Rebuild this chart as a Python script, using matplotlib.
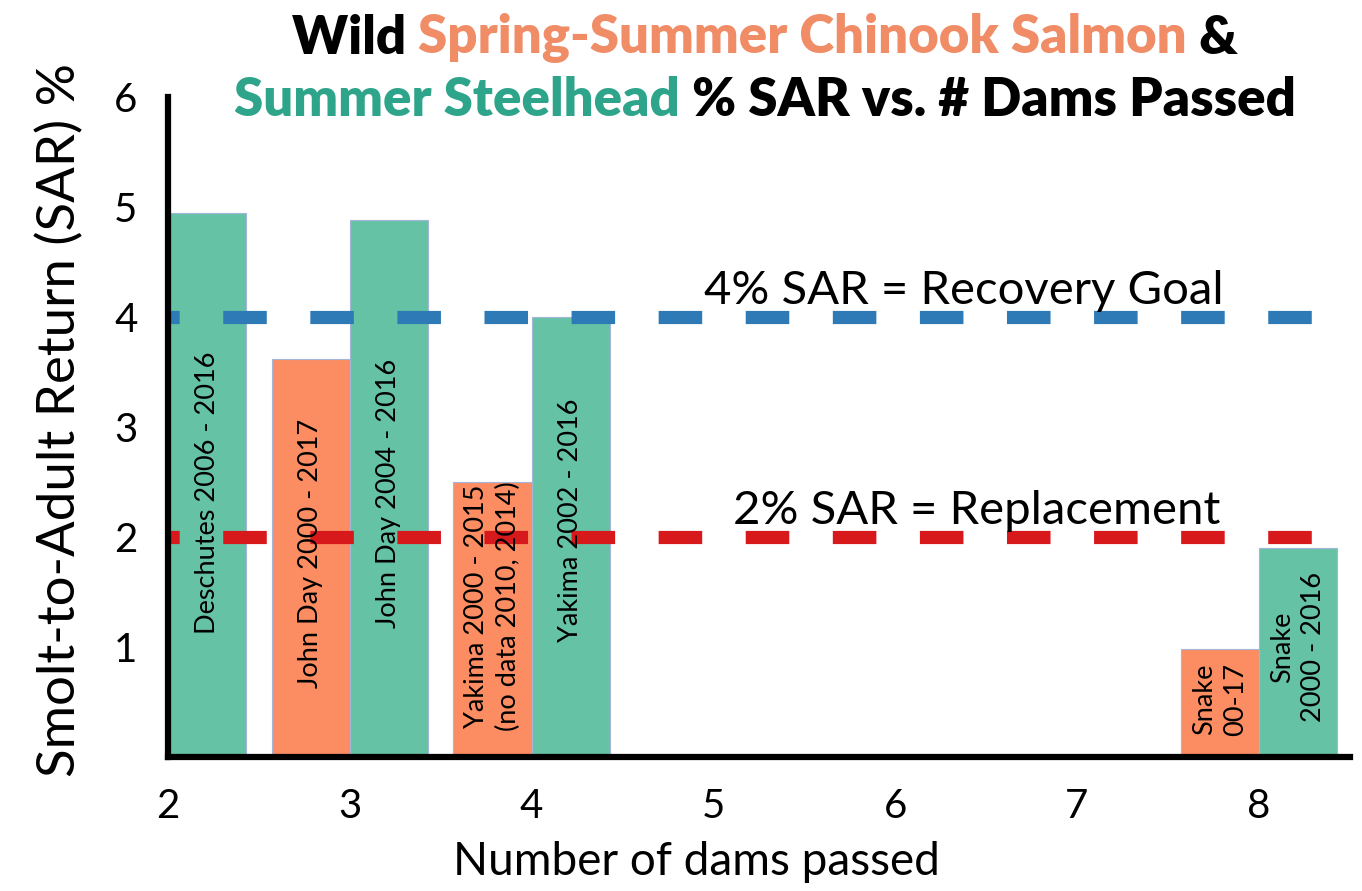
import numpy as np
import matplotlib
matplotlib.use("Agg")
import matplotlib.pyplot as plt


# =========================================================
# DATA
# =========================================================

chinook_dams = [3, 4, 8]
chinook_sar = [3.62, 2.5, 0.98]
chinook_labels = ["John Day 2000 - 2017", "Yakima 2000 - 2015\n(no data 2010, 2014)", "Snake\n00-17"]

steel_dams = [2, 3, 4, 8]
steel_sar = [4.95, 4.88, 4.0, 1.9]
steel_labels = ["Deschutes 2006 - 2016", "John Day 2004 - 2016", "Yakima 2002 - 2016", "Snake\n2000 - 2016"]

recovery_goal = 4
replacement = 2

x_ticks = [2, 3, 4, 5, 6, 7, 8]
y_ticks = [1, 2, 3, 4, 5, 6]


# =========================================================
# STYLE
# =========================================================

FONT = "Lato"
GREEN = "#66C2A5"
ORANGE = "#FC8D62"
BLUE = "#2E7AB6"
RED = "#D7191C"
EDGE = "#A3B6D9"
TITLE_ORANGE = "#F08C66"
TITLE_GREEN = "#2EA58A"

plt.rcParams["font.family"] = [FONT, "DejaVu Sans"]

W = 0.43
# label centre heights (layout only)
chinook_label_y = [1.85, 1.37, 0.52]
steel_label_y = [2.4, 2.4, 2.15, 1.0]


# =========================================================
# PLOT
# =========================================================

fig = plt.figure(figsize=(13.62, 8.91), dpi=100)
ax = fig.add_axes([0.1233, 0.1504, 0.8677, 0.7407])

ax.bar(chinook_dams, chinook_sar, width=-W, align="edge", color=ORANGE,
       edgecolor=EDGE, linewidth=0.8, zorder=2)
ax.bar(steel_dams, steel_sar, width=W, align="edge", color=GREEN,
       edgecolor=EDGE, linewidth=0.8, zorder=2)

xs = [1.99, 8.52]
ax.plot(xs, [recovery_goal] * 2, color=BLUE, lw=9.5, dash_capstyle="butt",
        linestyle=(2.3, (3.3, 3.3)), zorder=3, clip_on=False)
ax.plot(xs, [replacement] * 2, color=RED, lw=9.5, dash_capstyle="butt",
        linestyle=(2.3, (3.3, 3.3)), zorder=3, clip_on=False)

ax.text(6.38, recovery_goal + 0.24, "4% SAR = Recovery Goal", fontsize=34,
        ha="center", va="center", zorder=4)
ax.text(6.45, replacement + 0.24, "2% SAR = Replacement", fontsize=34,
        ha="center", va="center", zorder=4)

for x, y, lab in zip(chinook_dams, chinook_label_y, chinook_labels):
    ax.text(x - W / 2, y, lab, rotation=90, fontsize=19.5, ha="center",
            va="center", linespacing=1.3, zorder=4)
for x, y, lab in zip(steel_dams, steel_label_y, steel_labels):
    ax.text(x + W / 2, y, lab, rotation=90, fontsize=19.5, ha="center",
            va="center", linespacing=1.3, zorder=4)

ax.set_xlim(2, 8.5)
ax.set_ylim(0, 6)
ax.set_xticks(x_ticks)
ax.set_yticks(y_ticks)
ax.tick_params(axis="both", length=0, labelsize=29)
ax.tick_params(axis="x", pad=22)
ax.tick_params(axis="y", pad=22)

for s in ["top", "right"]:
    ax.spines[s].set_visible(False)
ax.spines["left"].set_linewidth(4.5)
ax.spines["bottom"].set_linewidth(4.5)
ax.spines["left"].set_zorder(5)
ax.spines["bottom"].set_zorder(5)

ax.set_xlabel("Number of dams passed", fontsize=33)
ax.xaxis.set_label_coords(0.447, -0.128)
ax.set_ylabel("Smolt-to-Adult Return (SAR) %", fontsize=38)
ax.yaxis.set_label_coords(-0.071, 0.51)


# =========================================================
# TITLE (multi-colour)
# =========================================================

def colored_line(parts, y, size=38):
    fig.canvas.draw()
    r = fig.canvas.get_renderer()
    texts = []
    for s, c in parts:
        t = fig.text(0, y, s, color=c, fontsize=size, fontweight="heavy",
                     ha="left", va="center")
        texts.append(t)
    widths = [t.get_window_extent(r).width for t in texts]
    total = sum(widths)
    x = 765 - total / 2
    for t, w in zip(texts, widths):
        t.set_x(x / fig.bbox.width)
        x += w

colored_line([("Wild ", "black"), ("Spring-Summer Chinook Salmon", TITLE_ORANGE), (" &", "black")], 1 - 38 / 891)
colored_line([("Summer Steelhead", TITLE_GREEN), (" % SAR vs. # Dams Passed", "black")], 1 - 100 / 891)

fig.savefig("out.png", dpi=100)
print("✅ Done")
